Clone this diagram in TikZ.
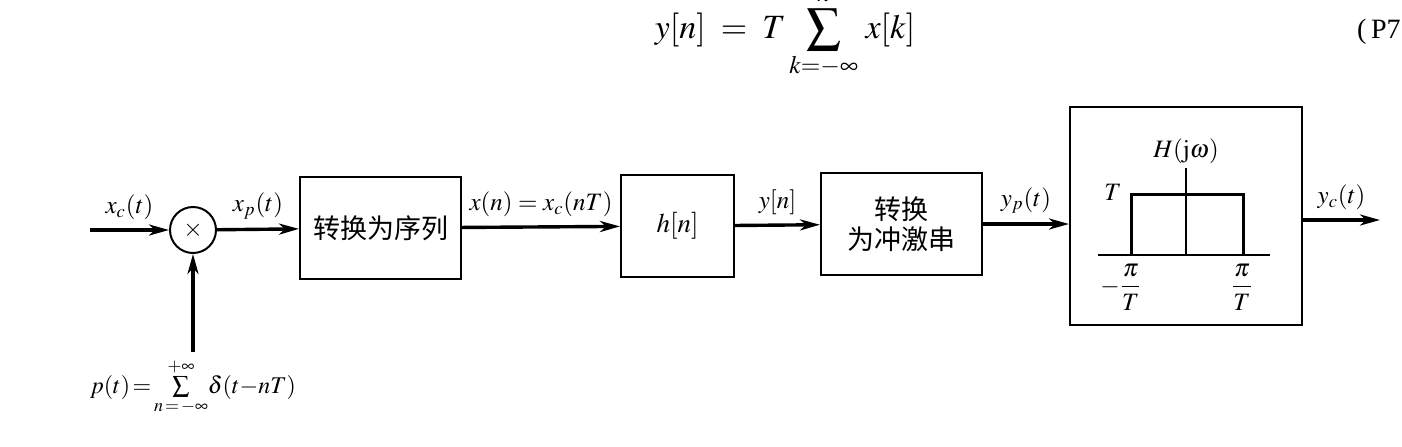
\documentclass[tikz,border=0pt]{standalone}
\usepackage{amsmath}
\usepackage{mathptmx}
\usepackage{fontspec}
\setmainfont{Liberation Serif}
\newfontfamily\cjk{Noto Sans CJK SC}
\usetikzlibrary{arrows.meta,positioning}

\begin{document}
\begin{tikzpicture}[>={Stealth[length=10pt,width=5.5pt,inset=3pt]}, x=0.5pt, y=-0.5pt,
	font=\fontsize{12.5}{15}\selectfont,
	sig/.style={->, line width=1.7pt},
	block/.style={draw, line width=1pt, inner sep=0pt},
	hanzi/.style={font=\cjk\fontsize{13.5}{15}\selectfont, align=center},
	lbl/.style={midway, above=1pt}]
	\useasboundingbox (0,0) rectangle (1402,446);
	% equation above the figure
	\node (eqn) [anchor=base, font=\fontsize{17}{20}\selectfont] at (785,38) {$\displaystyle y[n] \;=\; T\sum_{k=-\infty}^{n}\, x[k]$};
	\node (eqno) [anchor=base west, font=\fontsize{14}{17}\selectfont] at (1350,38) {(\,P7};
	% blocks
	\coordinate (in) at (90,230);
	\node (mul) [circle, draw, line width=1pt, minimum size=23pt, inner sep=0pt] at (193,230) {$\times$};
	\node (conv) [block, hanzi, minimum width=80.5pt, minimum height=51pt] at (380.5,228) {转换为序列};
	\node (filt) [block, font=\fontsize{13.5}{16}\selectfont, minimum width=56.5pt, minimum height=51pt] at (677.5,226) {$h[n]$};
	\node (imp) [block, hanzi, minimum width=80.5pt, minimum height=51pt] at (901.5,224) {转换\\为冲激串};
	\node (lpf) [block, minimum width=116pt, minimum height=109pt] at (1186,216) {};
	\coordinate (out) at (1380,220);
	\coordinate (pin) at (193,352);
	% signals
	\draw [sig] (in) -- (mul) node [lbl] (xc) {$x_c(t)$};
	\draw [sig] (mul) -- (conv) node [lbl] (xp) {$x_p(t)$};
	\draw [sig] (conv) -- (filt) node [lbl] (xn) {$x(n)=x_c(nT)$};
	\draw [sig] (filt) -- (imp) node [lbl] (yn) {$y[n]$};
	\draw [sig] (imp) -- (imp -| lpf.west) node [lbl] (yp) {$y_p(t)$};
	\draw [sig] (lpf.east |- out) -- (out) node [lbl] (yc) {$y_c(t)$};
	\draw [sig] (pin) -- (mul);
	\node (pt) [below=0pt of pin, font=\fontsize{12}{14}\selectfont] {$p(t)\!=\!\sum\limits_{n\,=\,-\infty}^{+\infty}\!\delta(t{-}nT)$};
	% ideal lowpass H(j omega)
	\draw [line width=0.6pt] (1098,255) -- (1270,255);
	\draw [line width=0.6pt] (1186,255) -- (1186,168);
	\draw [line width=1.5pt] (1131,255) -- (1131,194) -- (1243,194) -- (1243,255);
	\node (hjw) at (1186,151) {$H(\mathrm{j}\omega)$};
	\node (gain) at (1113,192) {$T$};
	\node (wl) at (1121,287) {$-\dfrac{\pi}{T}$};
	\node (wr) at (1242,287) {$\dfrac{\pi}{T}$};
\end{tikzpicture}
\end{document}
